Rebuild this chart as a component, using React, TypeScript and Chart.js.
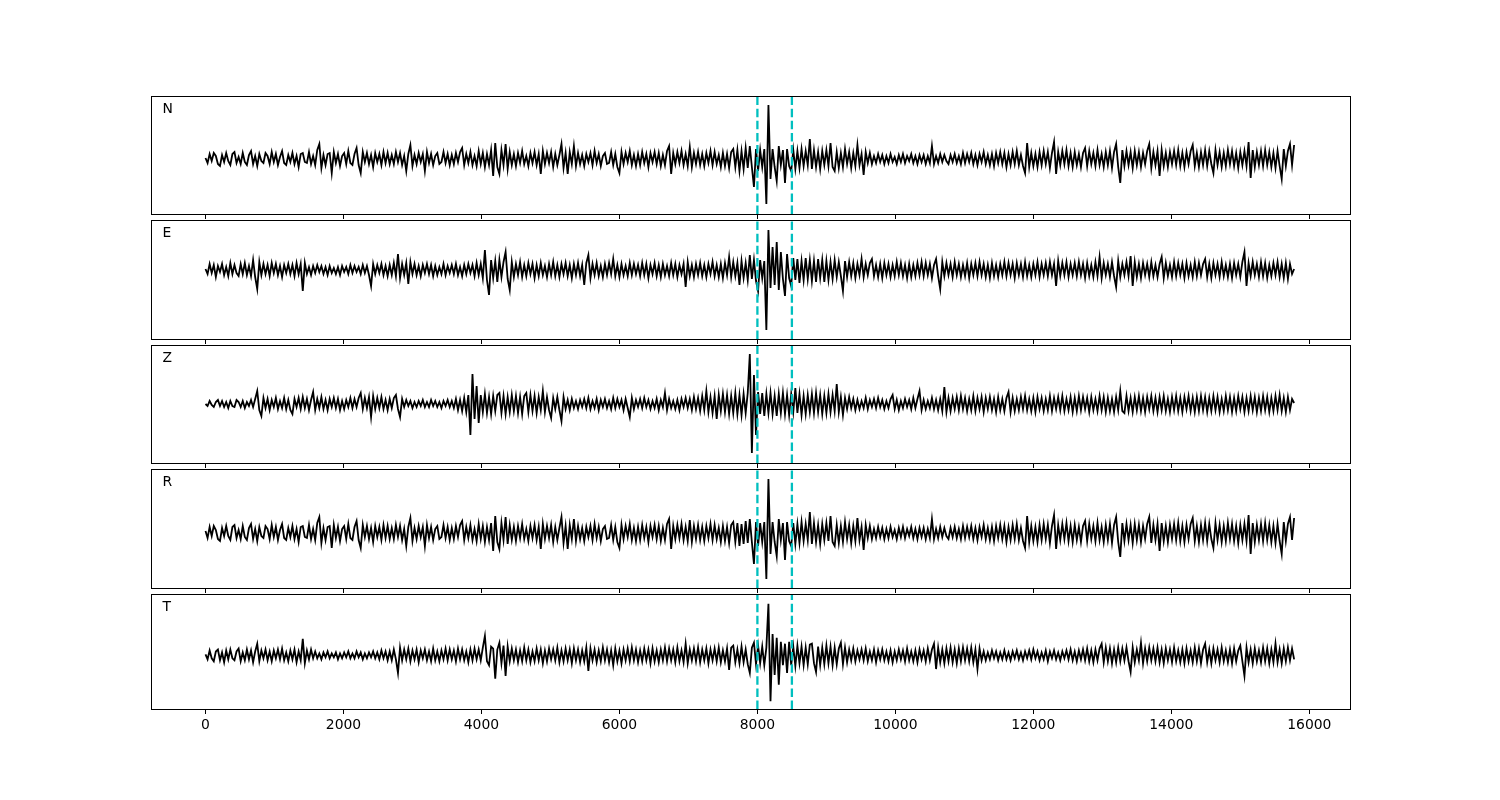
import React, { useEffect, useRef } from "react";
import { Chart, registerables } from "chart.js";

Chart.register(...registerables);

// sample spacing of the traces (samples per value)
const STEP = 30;
const X_TICKS = [0, 2000, 4000, 6000, 8000, 10000, 12000, 14000, 16000];
const PICKS = [8000, 8500];

// amplitudes (arbitrary units), one value every STEP samples
const N_VALUES = [
  1, -4, 5, -2, 6, 3, -5, -7, 4, -3, 6, -2, -6, 5, 7, -4, 2, -5, 6, -3, -6, 4, 8, -5, 3, -7, 5, -2, -4, 6,
  3, -5, 7, -3, 5, -6, 2, 8, -4, -6, 4, -3, 6, -5, 3, -8, 5, 6, -3, -4, 7, -5, 3, -6, 9, 15, -9, 4, -6, 5,
  6, -14, 7, -4, 5, -7, 3, 6, -5, 8, -4, -6, 5, 11, -6, -14, 7, -3, 6, -5, 4, -8, 6, -3, 5, -6, 7, -4, 6, -5,
  4, -5, 7, -3, 6, -6, 3, -12, 5, 14, -7, 4, -5, 6, -3, 5, -12, 7, -4, 5, -6, 3, 6, -5, -3, 7, -4, 5, -6, 4,
  -5, 6, -3, 7, 11, -6, 5, -4, 7, -6, 3, -7, 8, -5, 6, -8, 5, -6, 9, -17, 16, -8, -15, 9, -6, 15, -10, 7, -6, 5,
  -7, 6, -4, 8, -5, 3, -7, 6, -4, 7, -6, 5, -15, 8, -5, 6, -4, 7, -8, 5, -6, 4, 15, -9, 6, -15, 7, -5, 13, -7,
  6, -5, 4, -7, 5, -3, 6, -6, 8, -4, 5, -7, 3, 6, -5, -4, 7, -6, 5, -8, -14, 7, -5, 6, -3, 8, -6, 4, -7, 5,
  -6, 7, -4, 5, -8, 6, -3, 7, -5, 6, -7, 4, -6, 8, 13, -15, 6, -5, 7, -4, 8, -6, 5, -7, 12, -8, 6, -5, 7, -6,
  5, -7, 6, -4, 8, -6, 7, -5, 4, -8, 6, -7, 5, -9, 7, 10, -8, 9, -12, 8, -10, 11, -9, 13, -8, -28, 10, -12, 9, -8,
  10, -45, 54, -20, 10, -8, -22, 13, -6, 9, -24, 10, -7, -12, 9, -10, 8, -9, 10, -7, 8, -6, 20, -10, 9, -8, 7, -10, 8, -6,
  9, -7, 16, -8, -12, 7, -9, 6, -8, 10, -5, 7, -9, 6, -7, 14, -6, 5, -16, 7, -4, 6, -5, 3, -4, 5, -3, 4, -5, 3,
  -4, 5, -3, 2, -5, 4, -3, 5, -4, 3, -2, 5, -4, 3, -5, 4, -3, 4, -5, 3, -4, 13, -5, 3, -4, 5, -3, 4, -2, -5,
  4, -3, 5, -4, 3, -5, 6, -4, 5, -3, 6, -5, 4, -6, 5, -3, 7, -5, 4, -6, 5, -7, 6, -4, 7, -5, 6, -8, 5, -6,
  7, -5, 8, -6, 4, -7, -14, 16, -8, 6, -7, 5, -8, 7, -6, 8, -5, 7, -9, 6, 17, -15, 7, -6, 8, -5, 9, -7, 6, -8,
  7, -6, 5, -8, 6, 11, -7, 8, -5, 6, -7, 9, -6, 5, -8, 7, -6, 8, -9, 7, 15, -8, -24, 9, -7, 8, -6, 7, -9, 8,
  -6, 7, -8, 6, -5, 8, 15, -9, 7, -6, 8, -17, 9, -7, 6, -8, 7, -5, 8, -6, 9, -7, 6, -8, 7, -5, 8, 14, -7, 6,
  -8, 7, -6, 9, -7, 8, -5, -14, 9, -6, 7, -8, 6, -7, 9, -5, 8, -7, 6, -9, 7, -6, 8, -7, 17, -19, 9, -8, 7, -6,
  8, -7, 9, -6, 7, -8, 6, -9, 8, -7, -20, 10, -7, 8, 15, -6, 14,
];

const E_VALUES = [
  1, -4, 6, -3, 5, -7, 4, -2, 6, -5, 3, -6, 7, -4, 5, -3, -6, 6, -4, 7, -5, 4, -6, 10, -7, -19, 8, -5, 6, -4,
  5, -6, 7, -3, 6, -5, 4, -7, 5, -3, 6, -4, 5, -6, 7, -4, 6, -21, 7, -4, 3, -5, 4, -3, 5, -2, 4, -4, 3, -5,
  4, -3, 2, -4, 3, -5, 4, -2, 3, -4, 5, -3, 4, -2, 3, -4, 5, -3, 4, -5, -16, 6, -4, 5, -3, 6, -5, 4, -6, 5,
  -5, 7, -6, 16, -8, 6, -5, 7, -14, 8, -4, 6, -5, 4, -6, 5, -3, 6, -4, 5, -6, 4, -5, 3, -4, 6, -5, 4, -3, 5,
  -4, 6, -5, 3, -6, 5, -4, 6, -3, 5, -6, 7, -5, 6, -8, 20, -10, -25, 10, -8, 9, -12, 10, -7, 8, 18, -9, -20, 8, -7,
  6, -5, 8, -7, 5, -6, 7, -4, 6, -8, 5, -6, 7, -5, 4, -7, 6, -5, 8, -6, 5, -7, 6, -4, 7, -6, 5, -8, 6, -5,
  7, -6, 5, -15, 7, 15, -8, 6, -5, 7, -6, 4, -7, 6, -5, 7, -4, 11, -6, 5, -7, 6, -5, 4, -6, 7, -5, 6, -4, 5,
  -6, 7, -5, 6, -8, 5, -4, 7, -6, 5, -7, 6, -5, 4, -6, 7, -5, 6, -7, 5, -4, 6, -17, 8, -6, 5, -7, 6, -5, 7,
  -6, 5, -7, 6, -4, 8, -6, 5, -7, 6, -8, 7, -5, 13, -7, 8, -6, 7, -15, 9, -8, 7, -10, 15, -9, 10, -11, -21, 10, -8,
  9, -60, 40, -18, 23, -15, 28, -20, 18, -9, -26, 16, -8, -16, 12, -10, 11, -13, 9, -10, 12, -9, 10, -11, 9, -12, 11, -8, 10, -12,
  9, -10, 8, -9, 10, -7, 8, -6, -21, 9, -7, 8, -6, 7, -8, 6, -5, 11, -7, 6, -5, 7, 11, -6, 5, -7, 6, -8, 7, -5,
  6, -7, 5, -6, 8, -5, 7, -6, 5, -8, 6, -7, 5, -6, 7, -5, 8, -6, 7, -5, 6, -8, 5, 11, -6, -19, 8, -6, 7, -5,
  6, -7, 8, -5, 6, -7, 5, -6, 7, -8, 6, -5, 7, -6, 8, -5, 6, -7, 5, -8, 7, -6, 5, -7, 6, -5, 8, -6, 7, -5,
  6, -8, 7, -5, 6, -7, 8, -6, 5, -7, 6, -5, 8, -7, 6, -5, 7, -6, 8, -5, 6, -16, 9, -6, 7, -5, 8, -7, 6, -5,
  7, -6, 8, -5, 6, -8, 7, -6, 5, -7, 8, -6, 13, -8, 7, -5, 6, -7, 8, -6, -17, 9, -7, 6, -5, 8, -6, 14, -16, 8,
  -7, 6, -8, 7, -5, 6, -7, 8, -6, 5, -7, 6, 13, -8, 7, -6, 5, -7, 8, -6, 7, -5, 6, -8, 7, -6, 5, -7, 8, -6,
  7, -5, 6, 11, -7, 6, -8, 7, -5, 6, -7, 8, -6, 5, -7, 6, -8, 7, -5, 6, -7, 8, 18, -16, 7, -6, 8, -5, 6, -7,
  8, -6, 7, -8, 5, -6, 7, -5, 8, -7, 6, -8, 7, -9, 6, -4, 1,
];

const Z_VALUES = [
  0, -2, 3, -1, -3, 2, 4, -2, 3, -3, 2, -4, 3, -2, -3, 4, 2, -3, 3, -4, 2, -2, 4, -3, 5, 13, -6, -12, 6, -4,
  5, -6, 4, -3, 6, -5, 3, -4, 6, -5, 4, -6, -10, 5, -3, 6, -5, 7, -4, 5, -6, 4, 12, -6, 5, -4, 7, -5, 4, -6,
  5, -3, 6, -4, 5, -6, 3, -5, 4, -3, 6, -4, 5, -3, 6, 11, -5, 6, -4, 7, -13, 8, -5, 6, -4, 7, -5, 4, -6, 5,
  -4, 6, 9, -5, -13, 5, -3, 4, -2, 3, -4, 2, -3, 3, -2, 4, -3, 2, -3, 4, -2, 3, -3, 2, -4, 3, -2, 4, -3, 3,
  -4, 5, -6, 4, -7, 6, -8, 9, -31, 30, -15, 18, -19, 9, -8, 10, -9, 7, -10, 8, -7, 9, 11, -9, 8, -10, 7, -8, 9, -7,
  8, -9, 7, -10, 8, 11, -8, 9, -7, 8, -9, 7, -6, 13, -8, 7, -6, -14, 6, -5, 7, -6, -17, 7, -5, 4, -6, 5, -4, 3,
  -5, 4, -3, 5, -4, 6, -5, 3, -4, 5, -6, 4, -3, 5, -4, 3, -5, 6, -4, 5, -3, 4, -6, 5, -4, -13, 6, -5, 4, -3,
  5, -4, 6, -3, 4, -5, 3, -4, 5, -6, 4, -3, 11, -6, 5, -4, 3, -5, 4, -6, 5, -3, 6, -4, 5, -6, 7, -5, 6, -7,
  8, -6, 13, -8, 7, -9, 8, -15, 9, -7, 10, -8, 9, -10, 8, -9, 11, -10, 9, -11, 10, -9, 11, 50, -49, 29, -31, 12, -10, 11,
  -12, 10, -9, 11, -10, 8, -12, 10, -9, 11, -10, 9, -11, 10, -8, 16, -9, 10, -11, 8, -10, 9, -8, 10, -9, 11, -8, 9, -10, 8,
  -9, 10, -8, 9, -7, 20, -8, 7, -11, 6, -5, 7, -4, 5, -6, 4, -5, 3, -4, 6, -5, 4, -3, 5, -4, 6, -3, 4, -5, 3,
  -4, 5, 9, -5, 4, -6, 3, -4, 5, -3, 4, -5, 6, -4, 5, 13, -6, 4, -5, 3, -4, 6, -5, 4, -6, 5, -7, 17, -8, 6,
  -7, 6, -5, 7, -6, 8, -5, 6, -7, 5, -6, 8, -7, 6, -5, 7, -8, 6, -5, 7, -6, 5, -8, 7, -6, 5, -7, 6, 12, -8,
  6, -7, 5, -6, 7, -5, 8, -6, 5, -7, 6, -8, 7, -5, 6, -7, 5, -6, 8, -7, 6, -5, 7, -6, 8, -7, 5, -6, 7, -8,
  6, -7, 8, -6, 7, -5, 6, -8, 7, -6, 5, -7, 8, -6, 7, -8, 6, -7, 5, -8, 7, -6, 13, -7, -9, 8, -7, 6, -8, 7,
  -6, 8, -7, 6, -8, 7, -5, 8, -7, 6, -8, 7, -6, 8, -7, 5, -8, 7, -6, 8, -7, 6, -8, 7, -5, 8, -7, 6, -8, 7,
  -7, 8, -6, 7, -8, 6, -7, 8, -6, 7, -8, 5, -7, 8, -6, 7, -8, 6, -7, 8, -5, 7, -8, 6, -7, 8, -6, 7, -8, 6,
  -7, 8, -6, 7, -8, 6, -7, 8, -6, 9, -7, 6, -8, 7, -6, 5, 1,
];

const R_VALUES = [
  2, -5, 6, -3, 7, 3, -6, -8, 5, -3, 7, -3, -7, 6, 8, -5, 3, -6, 7, -4, -7, 5, 9, -6, 4, -8, 6, -3, -5, 7,
  4, -6, 8, -4, 6, -7, 3, 9, -5, -7, 5, -4, 7, -6, 4, -9, 6, 7, -4, -5, 8, -6, 4, -7, 10, 16, -10, 5, -7, 6,
  7, -15, 8, -5, 6, -8, 4, 7, -6, 9, -5, -7, 6, 12, -7, -15, 8, -4, 7, -6, 5, -9, 7, -4, 6, -7, 8, -5, 7, -6,
  5, -6, 8, -4, 7, -7, 4, -13, 6, 15, -8, 5, -6, 7, -4, 6, -13, 8, -5, 6, -7, 4, 7, -6, -4, 8, -5, 6, -7, 5,
  -6, 7, -4, 8, 12, -7, 6, -5, 8, -7, 4, -8, 9, -6, 7, -9, 6, -7, 10, -18, 17, -9, -16, 10, -7, 16, -11, 8, -7, 6,
  -8, 7, -5, 9, -6, 4, -8, 7, -5, 8, -7, 6, -16, 9, -6, 7, -5, 8, -9, 6, -7, 5, 16, -10, 7, -16, 8, -6, 14, -8,
  7, -6, 5, -8, 6, -4, 7, -7, 9, -5, 6, -8, 4, 7, -6, -5, 8, -7, 6, -9, -15, 8, -6, 7, -4, 9, -7, 5, -8, 6,
  -7, 8, -5, 6, -9, 7, -4, 8, -6, 7, -8, 5, -7, 9, 14, -16, 7, -6, 8, -5, 9, -7, 6, -8, 13, -9, 7, -6, 8, -7,
  6, -8, 7, -5, 9, -7, 8, -6, 5, -9, 7, -8, 6, -10, 8, 11, -9, 10, -13, 9, -11, 12, -10, 14, -9, -31, 11, -13, 10, -9,
  11, -46, 54, -21, 11, -9, -23, 14, -7, 10, -27, 11, -8, -13, 10, -11, 9, -10, 11, -8, 9, -7, 21, -11, 10, -9, 8, -11, 9, -7,
  10, -8, 17, -9, -13, 8, -10, 7, -9, 11, -6, 8, -10, 7, -8, 15, -7, 6, -17, 8, -5, 7, -6, 4, -5, 6, -4, 5, -6, 4,
  -5, 6, -4, 3, -6, 5, -4, 6, -5, 4, -3, 6, -5, 4, -6, 5, -4, 5, -6, 4, -5, 14, -6, 4, -5, 6, -4, 5, -3, -6,
  5, -4, 6, -5, 4, -6, 7, -5, 6, -4, 7, -6, 5, -7, 6, -4, 8, -6, 5, -7, 6, -8, 7, -5, 8, -6, 7, -9, 6, -7,
  8, -6, 9, -7, 5, -8, -15, 17, -9, 7, -8, 6, -9, 8, -7, 9, -6, 8, -10, 7, 18, -16, 8, -7, 9, -6, 10, -8, 7, -9,
  8, -7, 6, -9, 7, 12, -8, 9, -6, 7, -8, 10, -7, 6, -9, 8, -7, 9, -10, 8, 16, -9, -24, 10, -8, 9, -7, 8, -10, 9,
  -7, 8, -9, 7, -6, 9, 16, -10, 8, -7, 9, -18, 10, -8, 7, -9, 8, -6, 9, -7, 10, -8, 7, -9, 8, -6, 9, 15, -8, 7,
  -9, 8, -7, 10, -8, 9, -6, -15, 10, -7, 8, -9, 7, -8, 10, -6, 9, -8, 7, -10, 8, -7, 9, -8, 18, -21, 10, -9, 8, -7,
  9, -8, 10, -7, 8, -9, 7, -10, 9, -8, -21, 11, -8, 9, 16, -7, 15,
];

const T_VALUES = [
  1, -4, 5, -3, -6, 4, 6, -5, 3, -7, 5, -4, 6, -3, -5, 4, 7, -6, 3, -5, 6, -4, 5, -7, 4, 12, -6, 5, -3, 6,
  -5, 4, -6, 5, -3, 6, -4, 7, -5, 3, -6, 5, -4, 6, -7, 4, -5, 17, -8, 5, -4, 6, -3, 4, -3, 2, -4, 3, -2, 4,
  -3, 2, -2, 3, -4, 2, -3, 3, -2, 4, -3, 2, -3, 4, -2, 3, -4, 2, -3, 3, -2, 4, -3, 3, -4, 5, -3, 4, -5, 4,
  -5, 6, -4, -18, 8, -5, 6, -4, 7, -6, 5, -4, 6, -7, 5, -3, 6, -5, 4, -6, 7, -5, 4, -6, 5, -4, 7, -5, 6, -4,
  5, -6, 7, -4, 6, -5, 4, -7, 6, -5, 7, -4, 6, -5, 8, 20, -6, -10, 9, 7, -24, 6, 13, -8, 10, -21, 9, -6, 7, -5,
  6, -7, 5, -6, 8, -5, 6, -7, 4, -6, 7, -5, 6, -8, 5, -6, 7, -4, 6, -5, 8, -7, 5, -6, 7, -5, 6, -8, 7, -5,
  6, -7, 5, -6, 8, -16, 7, -5, 6, -7, 5, -6, 8, -5, 6, -7, 5, -10, 7, -6, 5, -8, 6, -5, 7, -6, 8, -5, 6, -7,
  5, -6, 7, -5, 6, -8, 7, -6, 5, -7, 6, -5, 8, -6, 7, -5, 6, -7, 8, -6, 5, -7, 12, -8, 6, -5, 7, -6, 8, -7,
  6, -5, 7, -8, 6, -5, 7, -6, 8, -7, 5, -6, 7, -15, 8, 10, -7, 6, -8, 9, -7, 6, -9, -18, 8, 13, -9, 10, -8, 9,
  -10, 8, 53, -47, 22, -20, 18, -30, 14, -10, 12, -18, 14, -10, 9, -11, 10, -8, 9, -10, 8, -9, 11, 12, -8, -17, 9, -10, 8, -9,
  10, -8, 9, -10, 8, -9, 7, 13, -9, 8, -7, 6, -5, 7, -6, 5, -4, 6, -5, 7, -6, 4, -5, 6, -7, 5, -4, 6, -5, 4,
  -6, 5, -7, 4, -5, 6, -4, 5, -6, 7, -5, 4, -6, 5, -7, 6, -4, 5, -6, 7, -5, 6, 12, -14, 8, -7, 6, -8, 7, -6,
  8, -7, 6, -8, 7, -6, 8, -5, 7, -6, 8, -7, 6, -14, 7, -5, 4, -5, 3, -4, 5, -3, 4, -5, 3, -4, 5, -4, 3, -5,
  4, -3, 5, -4, 3, -5, 4, -3, 5, -4, 6, -3, 4, -5, 3, -4, 5, -6, 4, -3, 5, -4, 3, -5, 4, -3, 5, -4, 6, -5,
  4, -6, 5, -4, 6, -5, 7, -6, 5, -7, 6, -5, 7, 12, -7, 8, -6, 7, -8, 6, -7, 8, -6, 7, -5, 8, -6, -17, 8, -7,
  6, -5, 13, -8, 7, -6, 8, -5, 7, -6, 8, -7, 6, -8, 7, -5, 6, -7, 8, -6, 5, -7, 6, -8, 7, -6, 5, -7, 8, -6,
  7, -8, 6, 12, -7, 6, -8, 7, -5, 6, -7, 8, -6, 5, -7, 6, -8, 7, -6, 5, 10, -6, -21, 8, -7, 6, -8, 7, -6, 5,
  -7, 8, -6, 7, -8, 6, -7, 12, -7, 6, -8, 7, -6, 8, -5, 7, -4,
];

const LABELS = ["N", "E", "Z", "R", "T"];
const SERIES = [N_VALUES, E_VALUES, Z_VALUES, R_VALUES, T_VALUES];
const Y_MIN = [-55, -69, -59, -55, -55];
const Y_MAX = [63, 50, 59, 64, 63];

// layout (pixels)
const W = 1500;
const H = 800;
const LEFT = 151;
const RIGHT = 1350;
const TOPS = [96, 220, 345, 469, 594];
const BOTTOMS = [214, 339, 463, 588, 712];
const TICK_LEN = 5;
const FONT_SIZE = 13.9;

const framePlugin = {
  id: "frameLabel",
  afterDraw(chart: any, _args: any, opts: any) {
    const { ctx, chartArea: a } = chart;
    ctx.save();
    ctx.strokeStyle = "#000";
    ctx.lineWidth = 1;
    ctx.strokeRect(a.left + 0.5, a.top + 0.5, a.right - a.left, a.bottom - a.top);
    ctx.fillStyle = "#000";
    ctx.font = `${FONT_SIZE}px "DejaVu Sans"`;
    ctx.textBaseline = "alphabetic";
    ctx.textAlign = "left";
    ctx.fillText(opts.label, a.left + 11.5, a.top + 17);
    ctx.restore();
  },
};

function Panel({ idx }: { idx: number }) {
  const ref = useRef<HTMLCanvasElement | null>(null);
  useEffect(() => {
    if (!ref.current) return;
    const values = SERIES[idx];
    const yMin = Y_MIN[idx];
    const yMax = Y_MAX[idx];
    const isLast = idx === SERIES.length - 1;
    const axisH = isLast ? TICK_LEN + 3 + FONT_SIZE * 1.2 : TICK_LEN;
    const pickSets = PICKS.map((p) => ({
      data: [
        { x: p, y: yMin },
        { x: p, y: yMax },
      ],
      borderColor: "rgb(0,191,191)",
      borderWidth: 2.3,
      borderDash: [8.5, 3.6],
      pointRadius: 0,
      order: 0,
    }));
    const chart = new Chart(ref.current, {
      type: "line",
      data: {
        datasets: [
          {
            data: values.map((v, i) => ({ x: i * STEP, y: v })),
            borderColor: "#000",
            borderWidth: 1.8,
            pointRadius: 0,
            tension: 0,
            order: 1,
          } as any,
          ...pickSets,
        ],
      },
      options: {
        responsive: false,
        animation: false,
        devicePixelRatio: 1,
        events: [],
        layout: {
          padding: {
            left: LEFT,
            right: W - RIGHT,
            top: TOPS[idx],
            bottom: H - BOTTOMS[idx] - axisH,
          },
        },
        plugins: {
          legend: { display: false },
          tooltip: { enabled: false },
          frameLabel: { label: LABELS[idx] },
        } as any,
        scales: {
          x: {
            type: "linear",
            min: -790,
            max: 16590,
            afterBuildTicks: (scale: any) => {
              scale.ticks = X_TICKS.map((v) => ({ value: v }));
            },
            grid: {
              display: true,
              drawOnChartArea: false,
              drawTicks: true,
              tickLength: TICK_LEN,
              color: "#000",
              lineWidth: 1,
            },
            border: { display: false },
            ticks: {
              display: isLast,
              padding: 3,
              color: "#000",
              maxRotation: 0,
              autoSkip: false,
              font: { family: "DejaVu Sans", size: FONT_SIZE, lineHeight: 1.2 },
              callback: (v: any) => String(v),
            },
          },
          y: {
            type: "linear",
            display: false,
            min: yMin,
            max: yMax,
          },
        },
      },
      plugins: [framePlugin],
    });
    return () => chart.destroy();
  }, [idx]);
  return (
    <canvas
      ref={ref}
      width={W}
      height={H}
      style={{ position: "absolute", left: 0, top: 0, width: W, height: H }}
    />
  );
}

export default function App() {
  return (
    <div
      style={{
        position: "absolute",
        left: 0,
        top: 0,
        width: W,
        height: H,
        background: "#fff",
      }}
    >
      {SERIES.map((_, i) => (
        <Panel key={i} idx={i} />
      ))}
    </div>
  );
}
